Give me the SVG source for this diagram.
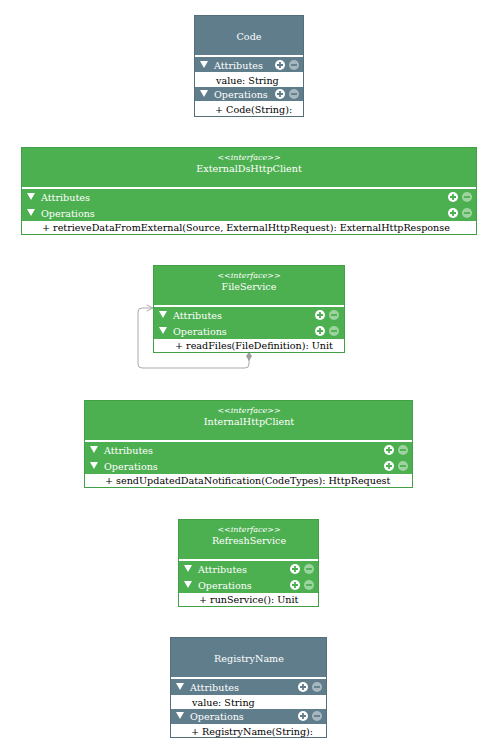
<svg xmlns="http://www.w3.org/2000/svg" width="499" height="747" viewBox="0 0 499 747">
<defs>
<style>
.g{fill:#4caf50;stroke:#43a047;stroke-width:1}
.s{fill:#607d8b;stroke:#546e7a;stroke-width:1}
.row{fill:#ffffff;stroke:none}
.sep{fill:#ffffff}
.t{font-family:"DejaVu Serif","Liberation Serif",serif;font-size:9.6px;fill:#ffffff}
.nm{font-family:"DejaVu Serif","Liberation Serif",serif;font-size:9.6px;fill:#ffffff;text-anchor:middle}
.st{font-family:"DejaVu Serif","Liberation Serif",serif;font-size:8px;font-style:italic;fill:#ffffff;text-anchor:middle}
.m{font-family:"DejaVu Serif","Liberation Serif",serif;font-size:9.6px;fill:#000000}
.conn{fill:none;stroke:#aaaaaa;stroke-width:1}
</style>
<g id="plusg"><circle r="5" fill="#ffffff"/><path d="M-3,0H3M0,-3V3" stroke="#4caf50" stroke-width="1.8"/></g>
<g id="minusg"><circle r="5" fill="#ffffff" fill-opacity="0.45"/><path d="M-3,0H3" stroke="#4caf50" stroke-width="1.8"/></g>
<g id="pluss"><circle r="5" fill="#ffffff"/><path d="M-3,0H3M0,-3V3" stroke="#607d8b" stroke-width="1.8"/></g>
<g id="minuss"><circle r="5" fill="#ffffff" fill-opacity="0.45"/><path d="M-3,0H3" stroke="#607d8b" stroke-width="1.8"/></g>
<path id="trig" d="M0,-4H8L4,3Z" fill="#ffffff"/>
<marker id="arr" viewBox="0 0 10 10" refX="9" refY="5" markerWidth="8" markerHeight="8" orient="auto" markerUnits="userSpaceOnUse"><path d="M1,1L9,5L1,9" fill="none" stroke="#aaaaaa" stroke-width="1.2"/></marker>
</defs>

<g id="connectors">
<path class="conn" d="M249,353 L249,364 Q249,368 245,368 L142,368 Q138,368 138,364 L138,312 Q138,308 142,308 L153,308" marker-end="url(#arr)"/>
<path d="M249,352 L252,356 L249,361 L246,356 Z" fill="#9e9e9e"/>
</g>

<g id="Code">
<rect class="s" x="194.5" y="15.5" width="109" height="101"/>
<rect class="sep" x="195" y="55" width="108" height="2"/>
<rect class="row" x="195" y="72" width="108" height="15"/>
<rect class="row" x="195" y="101" width="108" height="15"/>
<text class="nm" x="249" y="40">Code</text>
<use href="#trig" x="200" y="65"/>
<text class="t" x="214" y="69">Attributes</text>
<use href="#pluss" x="280" y="65"/><use href="#minuss" x="294" y="65"/>
<text class="m" x="216" y="84">value: String</text>
<use href="#trig" x="200" y="94"/>
<text class="t" x="214" y="98">Operations</text>
<use href="#pluss" x="280" y="94"/><use href="#minuss" x="294" y="94"/>
<text class="m" x="215" y="113">+ Code(String):</text>
</g>

<g id="ExternalDsHttpClient">
<rect class="g" x="21.5" y="147.5" width="455" height="87"/>
<rect class="sep" x="22" y="187" width="454" height="2"/>
<rect class="row" x="22" y="221" width="454" height="13"/>
<text class="st" x="249" y="160">&lt;&lt;interface&gt;&gt;</text>
<text class="nm" x="249" y="172">ExternalDsHttpClient</text>
<use href="#trig" x="27" y="197"/>
<text class="t" x="41" y="201">Attributes</text>
<use href="#plusg" x="453" y="197"/><use href="#minusg" x="467" y="197"/>
<use href="#trig" x="27" y="213"/>
<text class="t" x="41" y="217">Operations</text>
<use href="#plusg" x="453" y="213"/><use href="#minusg" x="467" y="213"/>
<text class="m" x="42" y="231">+ retrieveDataFromExternal(Source, ExternalHttpRequest): ExternalHttpResponse</text>
</g>

<g id="FileService">
<rect class="g" x="153.5" y="265.5" width="191" height="87"/>
<rect class="sep" x="154" y="305" width="190" height="2"/>
<rect class="row" x="154" y="339" width="190" height="13"/>
<text class="st" x="249" y="278">&lt;&lt;interface&gt;&gt;</text>
<text class="nm" x="249" y="290">FileService</text>
<use href="#trig" x="159" y="315"/>
<text class="t" x="173" y="319">Attributes</text>
<use href="#plusg" x="320" y="315"/><use href="#minusg" x="334" y="315"/>
<use href="#trig" x="159" y="331"/>
<text class="t" x="173" y="335">Operations</text>
<use href="#plusg" x="320" y="331"/><use href="#minusg" x="334" y="331"/>
<text class="m" x="175" y="349">+ readFiles(FileDefinition): Unit</text>
</g>

<g id="InternalHttpClient">
<rect class="g" x="84.5" y="400.5" width="328" height="87"/>
<rect class="sep" x="85" y="440" width="327" height="2"/>
<rect class="row" x="85" y="474" width="327" height="13"/>
<text class="st" x="249" y="413">&lt;&lt;interface&gt;&gt;</text>
<text class="nm" x="249" y="425">InternalHttpClient</text>
<use href="#trig" x="90" y="450"/>
<text class="t" x="104" y="454">Attributes</text>
<use href="#plusg" x="389" y="450"/><use href="#minusg" x="403" y="450"/>
<use href="#trig" x="90" y="466"/>
<text class="t" x="104" y="470">Operations</text>
<use href="#plusg" x="389" y="466"/><use href="#minusg" x="403" y="466"/>
<text class="m" x="105" y="484">+ sendUpdatedDataNotification(CodeTypes): HttpRequest</text>
</g>

<g id="RefreshService">
<rect class="g" x="178.5" y="519.5" width="140" height="87"/>
<rect class="sep" x="179" y="559" width="139" height="2"/>
<rect class="row" x="179" y="593" width="139" height="13"/>
<text class="st" x="249" y="532">&lt;&lt;interface&gt;&gt;</text>
<text class="nm" x="249" y="544">RefreshService</text>
<use href="#trig" x="184" y="569"/>
<text class="t" x="198" y="573">Attributes</text>
<use href="#plusg" x="295" y="569"/><use href="#minusg" x="309" y="569"/>
<use href="#trig" x="184" y="585"/>
<text class="t" x="198" y="589">Operations</text>
<use href="#plusg" x="295" y="585"/><use href="#minusg" x="309" y="585"/>
<text class="m" x="199" y="603">+ runService(): Unit</text>
</g>

<g id="RegistryName">
<rect class="s" x="170.5" y="637.5" width="156" height="100"/>
<rect class="sep" x="171" y="677" width="155" height="2"/>
<rect class="row" x="171" y="695" width="155" height="14"/>
<rect class="row" x="171" y="724" width="155" height="13"/>
<text class="nm" x="249" y="662">RegistryName</text>
<use href="#trig" x="176" y="687"/>
<text class="t" x="190" y="691">Attributes</text>
<use href="#pluss" x="303" y="687"/><use href="#minuss" x="317" y="687"/>
<text class="m" x="192" y="706">value: String</text>
<use href="#trig" x="176" y="716"/>
<text class="t" x="190" y="720">Operations</text>
<use href="#pluss" x="303" y="716"/><use href="#minuss" x="317" y="716"/>
<text class="m" x="191" y="735">+ RegistryName(String):</text>
</g>
</svg>
